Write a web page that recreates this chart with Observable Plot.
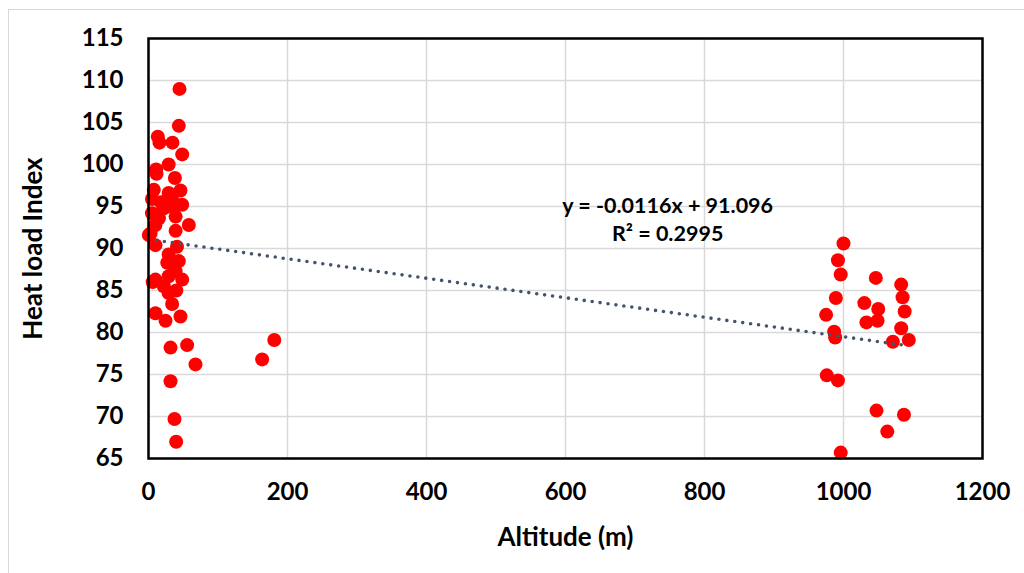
<!DOCTYPE html>
<html>
<head>
<meta charset="utf-8">
<script src="https://cdn.jsdelivr.net/npm/d3@7"></script>
<script src="https://cdn.jsdelivr.net/npm/@observablehq/plot@0.6"></script>
<style>
  html, body { margin: 0; padding: 0; background: #fff; }
  #wrap { position: relative; width: 1024px; height: 573px; overflow: hidden; }
  #border { position: absolute; left: 8px; top: 9px; width: 1100px; height: 700px; border: 1px solid #d9d9d9; box-sizing: border-box; }
  #chart { position: absolute; left: 0; top: 0; }
</style>
</head>
<body>
<div id="wrap"><div id="border"></div><div id="chart"></div></div>
<script>
// Altitude (m) and Heat load Index values
const altitude = [
  44.6, 43.6, 13.4, 15.8, 34.5, 48.5, 29, 11, 11.5, 38,
  7.6, 46, 29, 5, 34, 48.5, 22, 5, 39, 58,
  10, 3, 39, 10, 41, 29, 27, 43.6, 39, 10,
  48.5, 29, 6, 29, 34, 10, 24.5, 46, 55.6, 31.7,
  67.6, 31.7, 37.4, 39.8, 163.5, 181, 18, 15, 36, 40,
  22, 36, 0.5,
  1000, 992, 996, 1046.5, 1083, 989, 1085, 1030, 1050, 1088,
  975, 1033, 1049, 1083, 986.5, 988, 1071, 1094, 976, 992,
  1047.5, 1087, 1063, 996
];
const heatLoad = [
  109.0, 104.6, 103.3, 102.6, 102.6, 101.2, 100.0, 99.4, 98.9, 98.4,
  97.0, 96.9, 96.6, 95.9, 95.8, 95.2, 94.8, 94.2, 93.8, 92.8,
  92.8, 91.8, 92.1, 90.4, 90.2, 89.3, 88.3, 88.5, 87.3, 86.3,
  86.3, 86.7, 86.0, 84.7, 83.4, 82.3, 81.4, 81.9, 78.5, 78.2,
  76.2, 74.2, 69.7, 67.0, 76.8, 79.1, 95.5, 93.6, 94.9, 85.0,
  85.5, 88.0, 91.6,
  90.6, 88.6, 86.9, 86.5, 85.7, 84.1, 84.2, 83.5, 82.8, 82.5,
  82.1, 81.2, 81.4, 80.5, 80.1, 79.4, 78.9, 79.1, 74.9, 74.3,
  70.7, 70.2, 68.2, 65.7
];
// Trendline shown on the chart: y = slope * x + intercept
const trendSlope = -0.0116;
const trendIntercept = 91.096;
const trendLabel = ["y = -0.0116x + 91.096", "R² = 0.2995"];
const xTicks = [0, 200, 400, 600, 800, 1000, 1200];
const yTicks = [65, 70, 75, 80, 85, 90, 95, 100, 105, 110, 115];
const xTitle = "Altitude (m)";
const yTitle = "Heat load Index";

const points = altitude.map((a, i) => ({x: a, y: heatLoad[i]}));
const xMax = d3.max(altitude);
const trend = [0, xMax].map(x => ({x, y: trendSlope * x + trendIntercept}));

const font = "Lato, 'Open Sans', sans-serif";
const chart = Plot.plot({
  width: 1024,
  height: 573,
  marginLeft: 148,
  marginRight: 42,
  marginTop: 38,
  marginBottom: 115,
  style: {fontFamily: font, fontWeight: "bold", fontSize: "24px", color: "#000", background: "transparent", overflow: "visible"},
  x: {domain: [0, 1200], ticks: xTicks},
  y: {domain: [65, 115], ticks: yTicks},
  marks: [
    Plot.gridX(xTicks, {stroke: "#d9d9d9", strokeOpacity: 1, strokeWidth: 1.5}),
    Plot.gridY(yTicks, {stroke: "#d9d9d9", strokeOpacity: 1, strokeWidth: 1.5}),
    Plot.axisX(xTicks, {tickSize: 0, tickPadding: 24, label: null, tickFormat: d => String(d), fontSize: 24, fontWeight: "bold"}),
    Plot.axisY(yTicks, {tickSize: 0, tickPadding: 25, label: null, tickFormat: d => String(d), fontSize: 24, fontWeight: "bold"}),
    Plot.dot(points, {x: "x", y: "y", r: 7, fill: "#ff0000", stroke: "none"}),
    Plot.line(trend, {x: "x", y: "y", stroke: "#44546a", strokeWidth: 3.6, strokeDasharray: "0 8", strokeLinecap: "round"}),
    Plot.frame({stroke: "#000", strokeWidth: 2.5}),
    Plot.text([trendLabel.join("\n")], {x: 747, y: 93.66, fontSize: 21.5, fontWeight: "bold", lineHeight: 1.3, fill: "#000"}),
    Plot.text([xTitle], {frameAnchor: "bottom", dy: 79, textAnchor: "middle", lineAnchor: "middle", fontSize: 26, fontWeight: "bold", fill: "#000"}),
    Plot.text([yTitle], {frameAnchor: "left", dx: -115, textAnchor: "middle", lineAnchor: "middle", rotate: -90, fontSize: 26, fontWeight: "bold", fill: "#000"})
  ]
});
document.getElementById("chart").appendChild(chart);
</script>
</body>
</html>
